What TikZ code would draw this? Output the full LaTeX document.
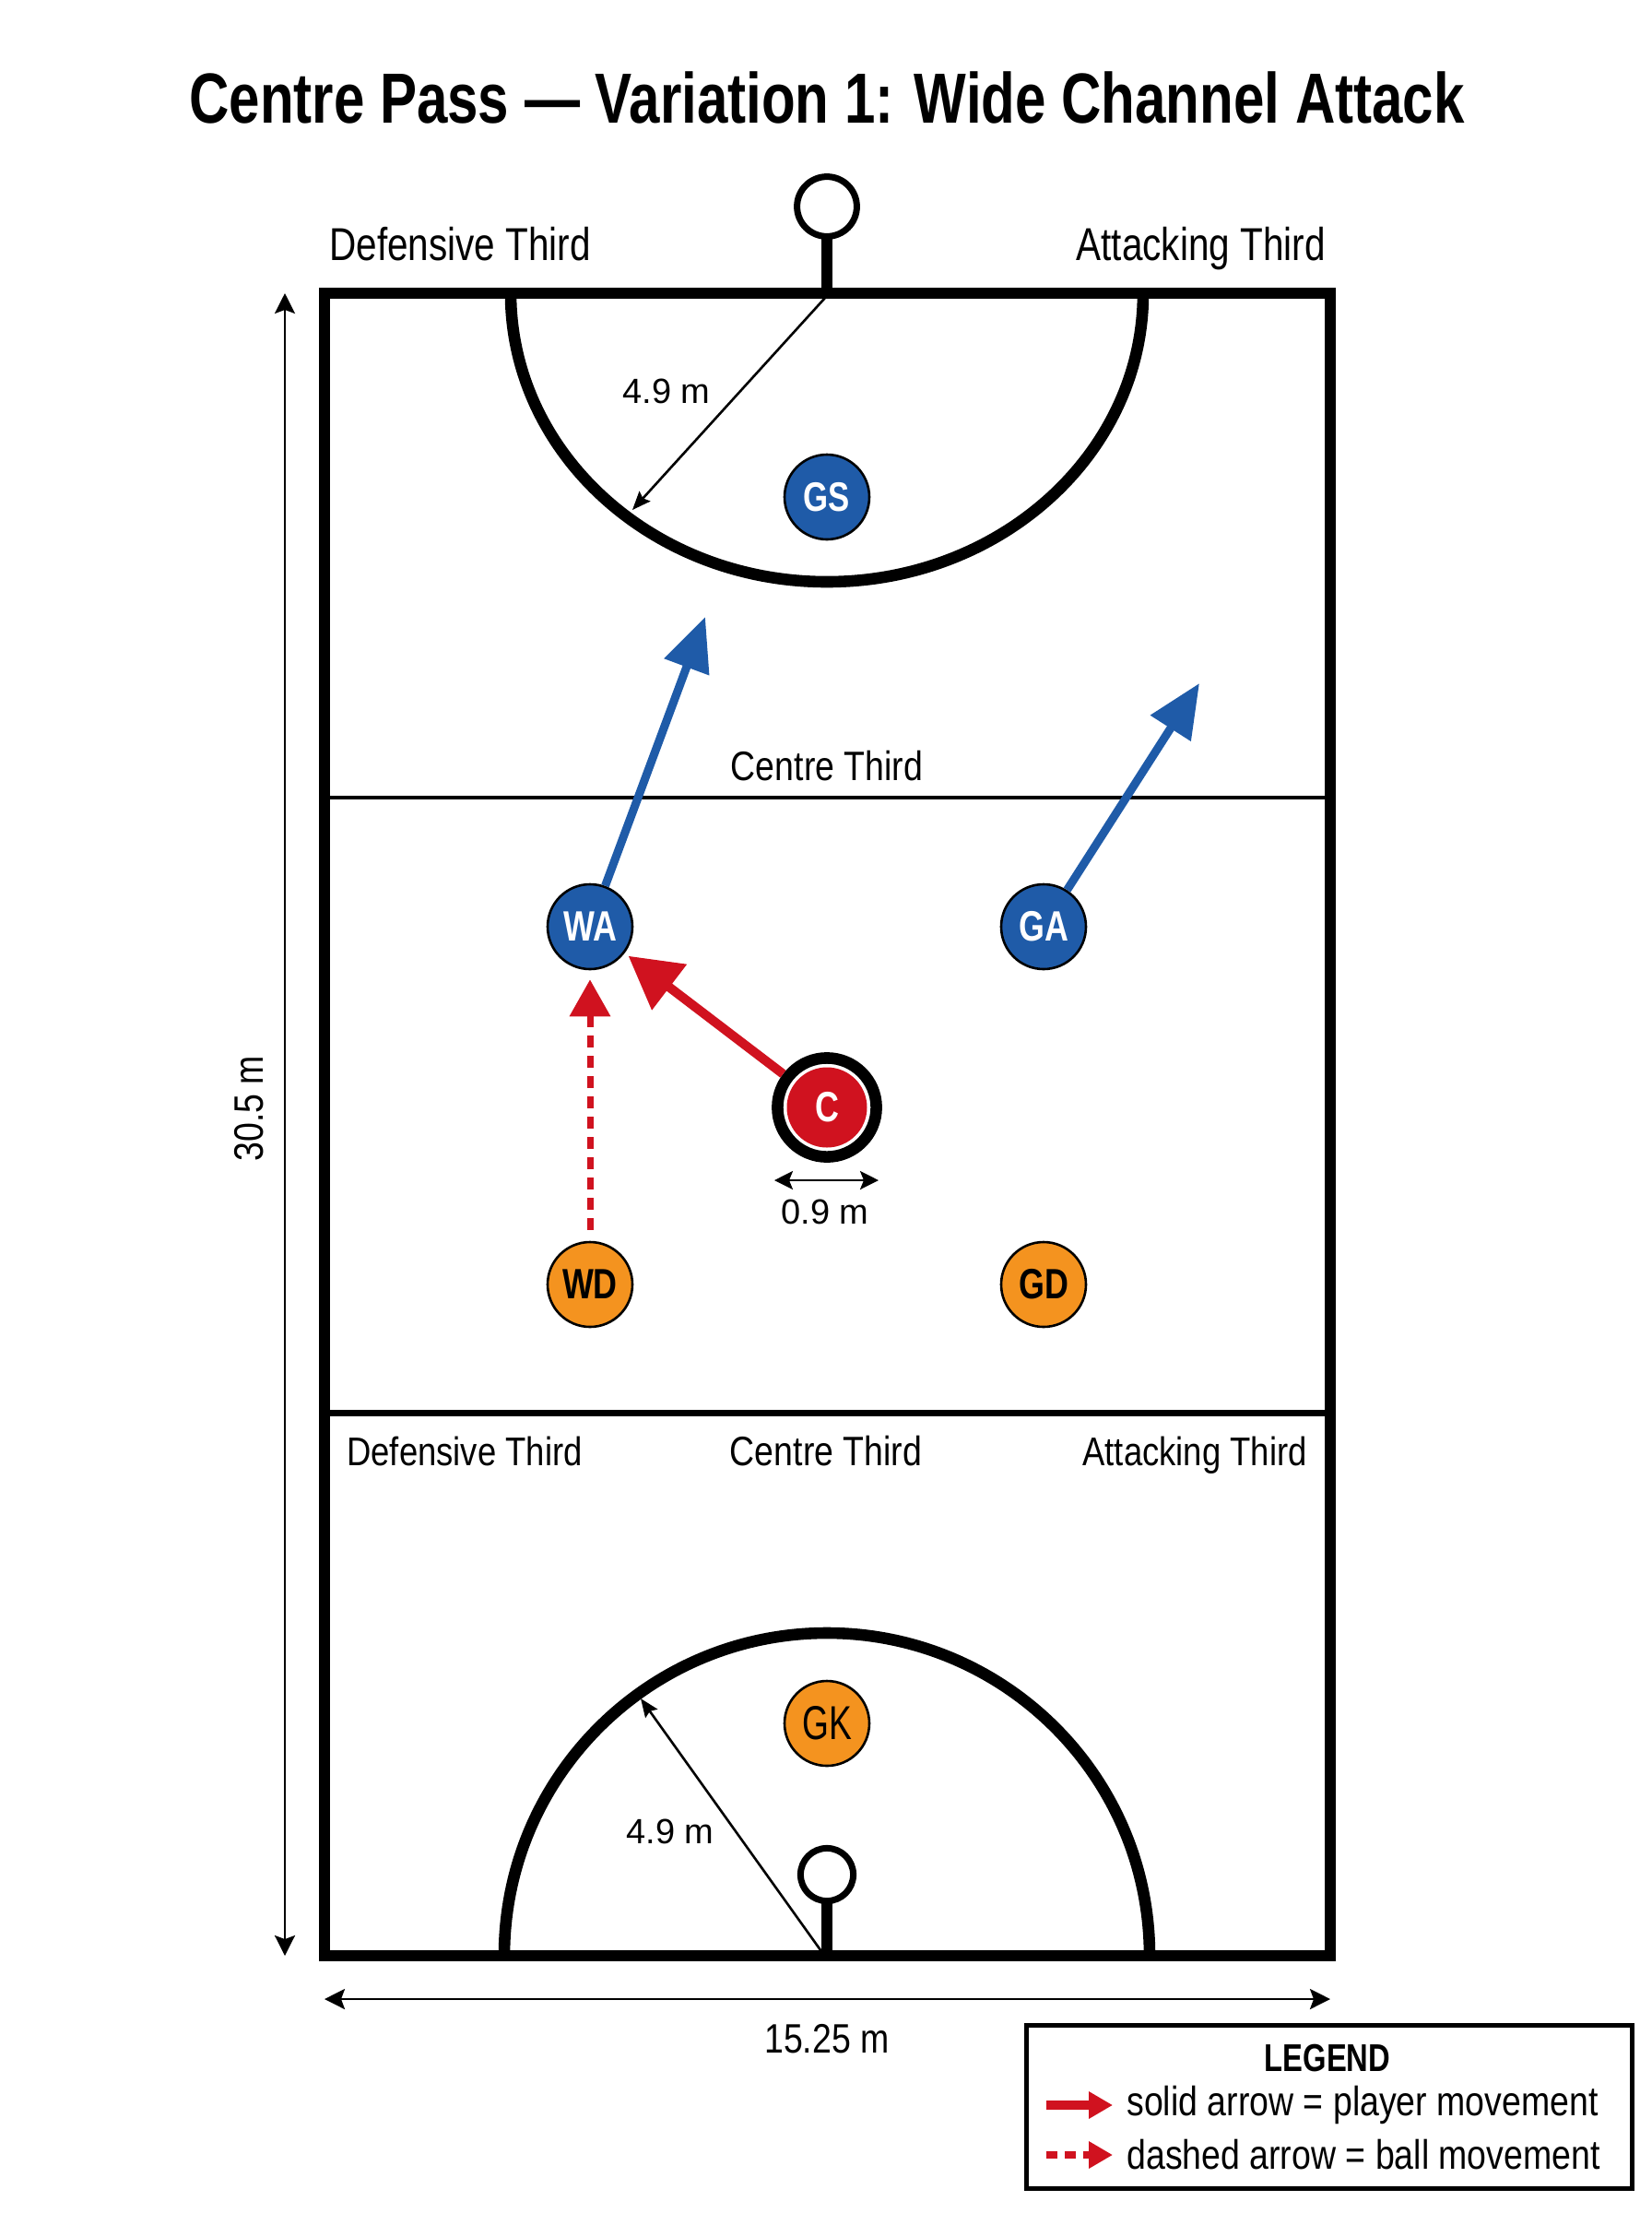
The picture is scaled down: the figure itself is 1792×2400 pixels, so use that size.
\documentclass[tikz,border=0pt]{standalone}
\usepackage{fontspec}
\setmainfont{Liberation Sans}[FakeStretch=0.84]
\newfontfamily\bfcond{Liberation Sans Bold}[FakeStretch=0.78]
\newfontfamily\ftop{Liberation Sans}[FakeStretch=0.81]
\newfontfamily\fgk{Liberation Sans}[FakeStretch=0.72]
\newfontfamily\fnum{Liberation Sans}
\usetikzlibrary{arrows.meta}
\definecolor{pblue}{HTML}{1F5BA8}
\definecolor{pred}{HTML}{D0121F}
\definecolor{porange}{HTML}{F4931F}
\begin{document}
\begin{tikzpicture}[x=0.5pt,y=-0.5pt,
  courtline/.style={line width=6pt},
  dimline/.style={line width=1.4pt, {Stealth[length=11pt,width=11pt,inset=2pt]}-{Stealth[length=11pt,width=11pt,inset=2pt]}},
  radline/.style={line width=1.3pt, -{Stealth[length=10pt,width=8pt,inset=1.5pt]}},
  toplbl/.style={font=\ftop\fontsize{25pt}{28pt}\selectfont, inner sep=0pt},
  botlbl/.style={font=\fontsize{21.7pt}{25pt}\selectfont, inner sep=0pt},
  lbl/.style={font=\fontsize{22.3pt}{26pt}\selectfont, inner sep=0pt},
  smlbl/.style={font=\fnum\fontsize{19pt}{22pt}\selectfont, inner sep=0pt},
  player/.style={circle, draw=black, line width=1.3pt, minimum size=46pt, inner sep=0pt,
    font=\bfcond\fontsize{23pt}{26pt}\selectfont},
  att/.style={player, fill=pblue, text=white},
  def/.style={player, fill=porange, text=black},
  moveblue/.style={draw=pblue, line width=4.5pt, -{Triangle[length=29pt,width=25pt]}},
  movered/.style={draw=pred, line width=5pt, -{Triangle[length=28pt,width=30pt]}},
  ballred/.style={draw=pred, line width=3.5pt, dash pattern=on 6.5pt off 4.5pt, -{Triangle[length=20pt,width=21.5pt]}},
]
\fill[white] (0,0) rectangle (1792,2400);
\useasboundingbox (0,0) rectangle (1792,2400);

% title
\node[anchor=base, inner sep=0pt, font=\bfcond\fontsize{38.5pt}{44pt}\selectfont] (title) at (897,133) {Centre Pass — Variation 1: Wide Channel Attack};

% court
\draw[courtline] (352,318) rectangle (1443,2121);
\draw[line width=2.2pt] (352,865) -- (1443,865);
\draw[line width=3.5pt] (352,1532) -- (1443,1532);
% shooting circles
\draw[line width=6.3pt] (554,318) arc[start angle=180, end angle=360, x radius=171.5pt, y radius=156.5pt];
\draw[line width=6.3pt] (547,2121) arc[start angle=180, end angle=0, radius=175pt];
% goal posts
\draw[line width=3.5pt] (897,224) circle (16.2pt);
\draw[line width=6pt] (897,258) -- (897,318);
\draw[line width=3.5pt] (897,2033) circle (14.3pt);
\draw[line width=6pt] (897,2063) -- (897,2121);

% radius dimensions
\coordinate (tpost) at (895,323);
\coordinate (trad) at (686,553);
\draw[radline] (tpost) -- (trad);
\node[smlbl] (t49) at (723,424) {4.9 m};
\coordinate (bpost) at (893,2119);
\coordinate (brad) at (695,1842);
\draw[radline] (bpost) -- (brad);
\node[smlbl] (b49) at (727,1986) {4.9 m};

% third labels
\node[toplbl, anchor=base west] (dt1) at (357,282) {Defensive Third};
\node[toplbl, anchor=base east] (at1) at (1438,282) {Attacking Third};
\node[lbl, anchor=base] (ct1) at (897,846) {Centre Third};
\node[botlbl, anchor=base west] (dt2) at (376,1589) {Defensive Third};
\node[lbl, anchor=base] (ct2) at (896,1589) {Centre Third};
\node[botlbl, anchor=base east] (at2) at (1418,1589) {Attacking Third};

% outer dimensions
\coordinate (vtop) at (309,318);
\coordinate (vbot) at (309,2121);
\draw[dimline] (vtop) -- (vbot);
\node[lbl, rotate=90] (len) at (270,1202) {30.5 m};
\coordinate (hl) at (352,2168);
\coordinate (hr) at (1443,2168);
\draw[dimline] (hl) -- (hr);
\node[lbl] (wid) at (897,2211) {15.25 m};

% players
\node[att, font=\bfcond\fontsize{22.3pt}{26pt}\selectfont] (gs) at (897,539) {GS};
\node[att] (wa) at (640,1005) {WA};
\node[att] (ga) at (1132,1005) {GA};
\node[def] (wd) at (640,1393) {WD};
\node[def] (gd) at (1132,1393) {GD};
\node[def, font=\fgk\fontsize{25.8pt}{28pt}\selectfont] (gk) at (897,1869) {GK};
\node[circle, draw=black, fill=white, line width=6.3pt, minimum size=53.6pt, inner sep=0pt,
  text=white, font=\bfcond\fontsize{23pt}{26pt}\selectfont,
  path picture={\fill[pred] (path picture bounding box.center) circle (21.75pt);}] (c) at (897,1201) {C};

% centre circle dimension
\coordinate (cl) at (840,1280);
\coordinate (cr) at (953,1280);
\draw[line width=1.3pt, {Stealth[length=10pt,width=10pt,inset=2pt]}-{Stealth[length=10pt,width=10pt,inset=2pt]}] (cl) -- (cr);
\node[smlbl] (c09) at (895,1314) {0.9 m};

% movements
\coordinate (waend) at (765,669);
\coordinate (gaend) at (1301,741);
\draw[moveblue] (wa) -- (waend);
\draw[moveblue] (ga) -- (gaend);
\draw[movered, shorten >=2.5pt] (c) -- (wa);
\draw[ballred, shorten >=5pt, shorten <=6pt] (wd) -- (wa);

% legend
\node[draw=black, line width=2.5pt, minimum width=328.5pt, minimum height=88.5pt, anchor=north west, inner sep=0pt] (legend) at (1111,2194) {};
\node[inner sep=0pt, font=\bfcond\fontsize{21pt}{24pt}\selectfont] (legt) at (1440,2232) {LEGEND};
\coordinate (l1a) at (1135,2283);
\coordinate (l1b) at (1207,2283);
\draw[draw=pred, line width=5pt, -{Triangle[length=13pt,width=14pt]}] (l1a) -- (l1b);
\node[lbl, anchor=west] (l1t) at (1222,2283) {solid arrow = player movement};
\coordinate (l2a) at (1135,2337);
\coordinate (l2b) at (1207,2337);
\draw[draw=pred, line width=4pt, dash pattern=on 6pt off 4pt, -{Triangle[length=13pt,width=14pt]}] (l2a) -- (l2b);
\node[lbl, anchor=west] (l2t) at (1222,2337) {dashed arrow = ball movement};
\end{tikzpicture}
\end{document}
